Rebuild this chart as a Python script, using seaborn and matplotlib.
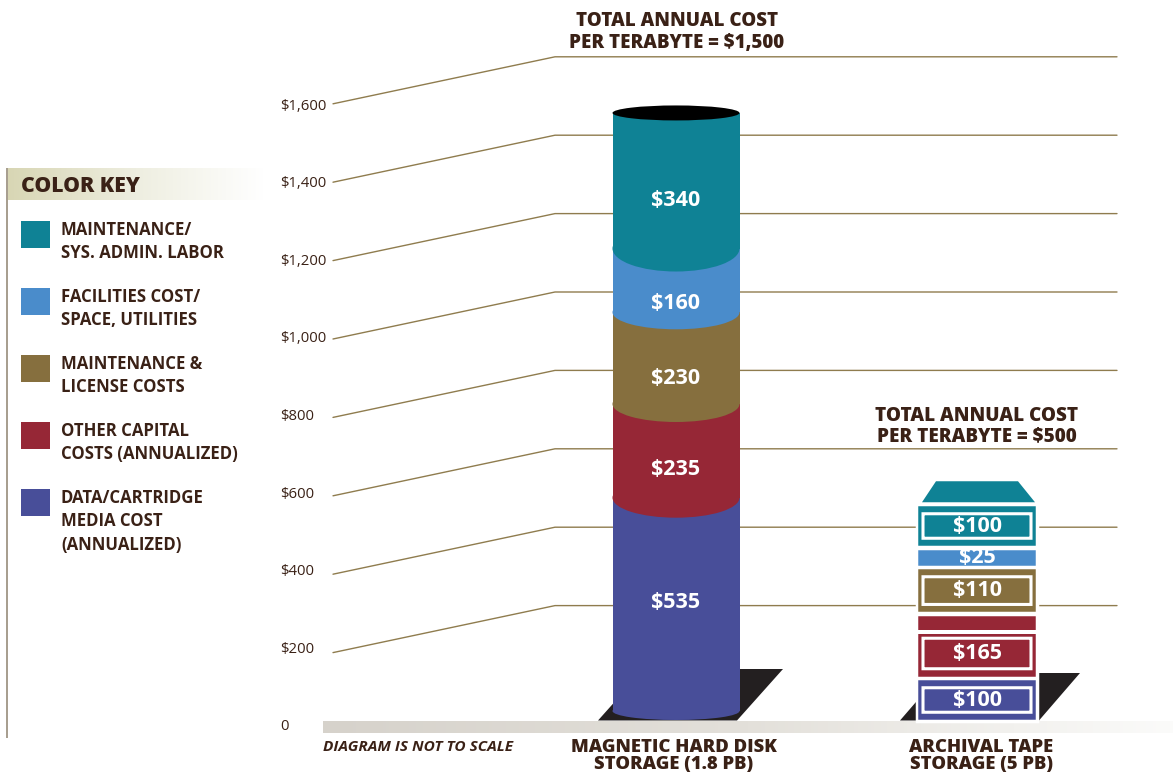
import matplotlib
matplotlib.use("Agg")
import matplotlib.pyplot as plt
import numpy as np
import seaborn as sns
from matplotlib.colors import LinearSegmentedColormap
from matplotlib.patches import Ellipse, FancyBboxPatch, Polygon, Rectangle

# Annual cost per terabyte, listed from the bottom of each stack upward
storage_types = ["MAGNETIC HARD DISK\nSTORAGE (1.8 PB)", "ARCHIVAL TAPE\nSTORAGE (5 PB)"]
cost_names = [
    "DATA/CARTRIDGE\nMEDIA COST\n(ANNUALIZED)",
    "OTHER CAPITAL\nCOSTS (ANNUALIZED)",
    "MAINTENANCE &\nLICENSE COSTS",
    "FACILITIES COST/\nSPACE, UTILITIES",
    "MAINTENANCE/\nSYS. ADMIN. LABOR",
]
disk_costs = [535, 235, 230, 160, 340]
tape_costs = [100, 165, 110, 25, 100]
cost_colors = ["#484e99", "#962736", "#866f3e", "#4a8ccb", "#0f8295"]
axis_ticks = [0, 200, 400, 600, 800, 1000, 1200, 1400, 1600]
disk_total = "TOTAL ANNUAL COST\nPER TERABYTE = $1,500"
tape_total = "TOTAL ANNUAL COST\nPER TERABYTE = $500"

W, H = 1173, 776
INK = "#3a2116"
RULE = "#8f7c4e"
FONT = "Open Sans"
HEAVY = 800

sns.set_theme(style="white")
plt.rcParams["font.family"] = [FONT, "DejaVu Sans"]
fig = plt.figure(figsize=(W / 100, H / 100), dpi=100, facecolor="white")


def value_layer(zero_px, px_per_dollar, zorder):
    """Transparent full-figure axes: x in pixels, y in dollars."""
    ax = fig.add_axes([0, 0, 1, 1], zorder=zorder)
    ax.patch.set_alpha(0)
    ax.set_xlim(0, W)
    ax.set_ylim((zero_px - H) / px_per_dollar, zero_px / px_per_dollar)
    sns.despine(ax=ax, left=True, bottom=True)
    ax.set_xticks([])
    ax.set_yticks([])
    return ax


def finish_stack_axes(ax, zero_px, px_per_dollar):
    """Restore the shared category spacing after seaborn has drawn the bars."""
    ax.set_xlabel("")
    ax.set_ylabel("")
    ax.set_xticks([])
    ax.set_yticks([])
    ax.set_xlim(-676 / CAT_PX, (W - 676) / CAT_PX)
    ax.set_ylim((zero_px - H) / px_per_dollar, zero_px / px_per_dollar)


# Receding grid: sloped front edge that turns flat along the back wall
BACK_SCALE = 0.392
FRONT_DROP = 47 / BACK_SCALE
grid = value_layer(684, BACK_SCALE, 1)
for v in axis_ticks[1:]:
    grid.plot([333, 555, 1117], [v - FRONT_DROP, v, v], color=RULE, lw=1, solid_joinstyle="miter")

# Dollar scale on the left
scale = value_layer(725, 0.388, 2)
scale.set_yticks(axis_ticks)
scale.set_yticklabels([f"${v:,}" if v else "0" for v in axis_ticks], fontsize=10.7, color=INK, ha="left")
scale.tick_params(axis="y", length=0, pad=-280 * 0.72)

# Page furniture: floor, key, shadows and captions, in pixel coordinates
page = fig.add_axes([0, 0, 1, 1], zorder=3)
page.patch.set_alpha(0)
page.axis("off")
floor_cmap = LinearSegmentedColormap.from_list("floor", ["#d6d2cb", "#e3e0da", "#fbfbfa"])
page.imshow(np.linspace(0, 1, 256)[None, :], cmap=floor_cmap, aspect="auto", extent=(323, 1173, 733, 721))
key_cmap = LinearSegmentedColormap.from_list("key", ["#d8d6b4", "#eeeee0", "#ffffff"])
page.imshow(np.linspace(0, 1, 256)[None, :], cmap=key_cmap, aspect="auto", extent=(8, 264, 200, 168))
page.set_xlim(0, W)
page.set_ylim(H, 0)

page.add_patch(Rectangle((6, 168), 2, 570, color="#a89f90", lw=0))
page.add_patch(Polygon([(598, 720.5), (644, 669), (783, 669), (737, 720.5)], color="#231f20", lw=0))
page.add_patch(Polygon([(900, 720.5), (941, 673), (1080, 673), (1039, 720.5)], color="#231f20", lw=0))

page.text(21, 186, "COLOR KEY", fontsize=15.2, fontweight=HEAVY, color=INK, va="center")
for name, color, top in zip(cost_names[::-1], cost_colors[::-1], [221, 288, 355, 422, 489]):
    page.add_patch(Rectangle((21, top), 29, 27, color=color, lw=0))
    page.text(61, top + 0, name, fontsize=12.1, fontweight="bold", color=INK, va="top", linespacing=1.39)

page.text(323, 747, "DIAGRAM IS NOT TO SCALE", fontsize=11.1, fontweight="bold", style="italic", color=INK, va="center")
page.text(677, 32, disk_total, fontsize=13.5, fontweight=HEAVY, color=INK, ha="center", va="center", linespacing=1.1)
page.text(977, 426.5, tape_total, fontsize=13.6, fontweight=HEAVY, color=INK, ha="center", va="center", linespacing=1.03)
page.text(674, 756.5, storage_types[0], fontsize=13.3, fontweight=HEAVY, color=INK, ha="center", va="center", linespacing=1.0)
page.text(981, 756.5, storage_types[1], fontsize=13.3, fontweight=HEAVY, color=INK, ha="center", va="center", linespacing=1.0)

# Both stacks share a categorical x axis: disk cylinder left, tape blocks right
CAT_PX = 301
px_x = lambda px: px / CAT_PX

# Disk cylinder, painted upward so that each curved lower edge overlaps the band below
DISK_SCALE = 0.3987
DISK_ZERO = 711
disk_ax = value_layer(DISK_ZERO, DISK_SCALE, 4)
disk_y = lambda px: px / DISK_SCALE
disk_width = px_x(127)
bulges = [9, 20, 18, 17, 23]
label_drops = [-2, 19, 20, 23, 20]
bottom = 0
for cost, color, bulge, drop in zip(disk_costs, cost_colors, bulges, label_drops):
    sns.barplot(x=[storage_types[0]], y=[cost], order=storage_types, bottom=bottom, width=disk_width,
                color=color, saturation=1, linewidth=0, ax=disk_ax)
    disk_ax.add_patch(Ellipse((0, bottom), disk_width, disk_y(2 * bulge), color=color, lw=0, zorder=3))
    disk_ax.text(0, bottom + cost / 2 - disk_y(drop), f"${cost}", color="white", fontsize=15.5,
                 fontweight="bold", ha="center", va="center", zorder=5)
    bottom += cost
disk_ax.add_patch(Ellipse((0, bottom), disk_width, disk_y(15), color="black", lw=0, zorder=4))
finish_stack_axes(disk_ax, DISK_ZERO, DISK_SCALE)

# Tape cartridges: separate framed blocks, each thickened by a rim of its own colour
TAPE_SCALE = 0.32
TAPE_ZERO = 716
RIM_PX = 7.5
GAP_PX = 4
tape_ax = value_layer(TAPE_ZERO, TAPE_SCALE, 5)
tape_y = lambda px: px / TAPE_SCALE
tape_width = px_x(118 - RIM_PX)
step_extra = tape_y(RIM_PX + GAP_PX)

# White backing keeps the grid lines and shadow clear of the blocks
backing_height = sum(tape_costs) + step_extra * (len(tape_costs) - 1)
sns.barplot(x=[storage_types[1]], y=[backing_height], order=storage_types, width=tape_width,
            color="white", saturation=1, edgecolor="white", linewidth=(RIM_PX + 6) * 0.72, ax=tape_ax)

bottom = 0
for cost, color in zip(tape_costs, cost_colors):
    sns.barplot(x=[storage_types[1]], y=[cost], order=storage_types, bottom=bottom, width=tape_width,
                color=color, saturation=1, edgecolor=color, linewidth=RIM_PX * 0.72, ax=tape_ax)
    frame_height = cost
    if cost == max(tape_costs):
        # the capital block is split, leaving a thin slat on top
        frame_height = cost * 0.72
        slat = bottom + frame_height + tape_y(2.5)
        tape_ax.plot([1 - px_x(64), 1 + px_x(64)], [slat, slat], color="white", lw=GAP_PX * 0.72, zorder=4,
                     solid_capstyle="butt")
    centre = bottom + frame_height / 2
    if cost >= 100:
        half_w = px_x(54)
        half_h = (frame_height + tape_y(RIM_PX)) / 2 - tape_y(7.5)
        tape_ax.add_patch(FancyBboxPatch((1 - half_w, centre - half_h), 2 * half_w, 2 * half_h,
                                         boxstyle="round,pad=0,rounding_size=0.004",
                                         mutation_aspect=1 / (TAPE_SCALE * CAT_PX),
                                         fill=False, edgecolor="white", lw=2.2, zorder=4))
    tape_ax.text(1, centre, f"${cost}", color="white", fontsize=15.5, fontweight="bold",
                 ha="center", va="center", zorder=5)
    bottom += cost + step_extra

# Sloped cap above the top cartridge
cap_low = bottom - tape_y(RIM_PX / 2)
cap_high = cap_low + tape_y(21)
tape_ax.add_patch(Polygon([(1 - px_x(55), cap_low), (1 - px_x(41), cap_high),
                           (1 + px_x(41), cap_high), (1 + px_x(58), cap_low)],
                          color=cost_colors[-1], lw=0))
finish_stack_axes(tape_ax, TAPE_ZERO, TAPE_SCALE)

fig.savefig("out.png", dpi=100)
